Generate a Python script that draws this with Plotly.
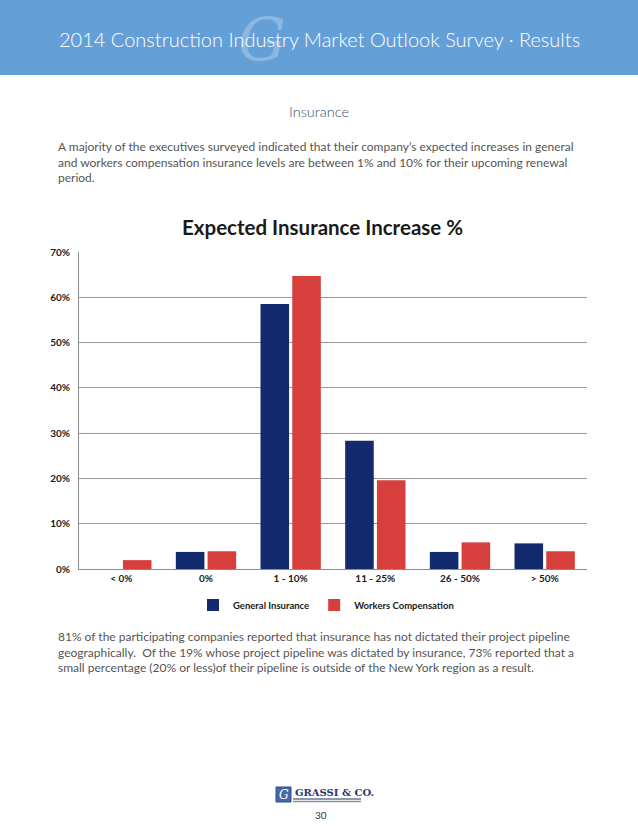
import plotly.graph_objects as go

categories = ["< 0%", "0%", "1 - 10%", "11 - 25%", "26 - 50%", "> 50%"]
general_insurance = [0.0, 3.77, 58.49, 28.30, 3.77, 5.66]
workers_comp = [1.96, 3.92, 64.71, 19.61, 5.88, 3.92]
y_ticks = [0, 10, 20, 30, 40, 50, 60, 70]
y_tick_labels = [f"{v}%" for v in y_ticks]

W, H = 638, 826
L, R, T, B = 79, 587, 252, 569  # plot area in pixels


def px(x):
    return (x - L) / (R - L)


def py(y):
    return (B - y) / (B - T)


fig = go.Figure()
fig.add_trace(go.Bar(
    x=categories, y=general_insurance, name="General Insurance",
    marker=dict(color="#142a6e", line=dict(width=0)),
))
fig.add_trace(go.Bar(
    x=categories, y=workers_comp, name="Workers Compensation",
    marker=dict(color="#d63f3c", line=dict(width=0)),
))

shapes = [
    dict(type="rect", xref="paper", yref="paper", x0=px(0), x1=px(W), y0=py(75), y1=py(0),
         fillcolor="#659fd7", line=dict(width=0), layer="below"),
    # logo square
    dict(type="rect", xref="paper", yref="paper", x0=px(276), x1=px(291), y0=py(802), y1=py(787),
         fillcolor="#4468a8", line=dict(color="#2c4a86", width=1)),
    dict(type="line", xref="paper", yref="paper", x0=px(293), x1=px(361), y0=py(799), y1=py(799),
         line=dict(color="#1f2f6b", width=1)),
    dict(type="line", xref="paper", yref="paper", x0=px(293), x1=px(361), y0=py(801.5), y1=py(801.5),
         line=dict(color="#8a8fa8", width=1.5)),
]

body_font = "Lato, 'Open Sans', sans-serif"
annotations = [
    dict(text="<i>G</i>", x=px(262), y=py(40), xref="paper", yref="paper", showarrow=False,
         font=dict(family="DejaVu Serif", size=60, color="rgba(255,255,255,0.25)"),
         xanchor="center", yanchor="middle"),
    dict(text="2014 Construction Industry Market Outlook Survey · Results", x=px(319), y=py(39),
         xref="paper", yref="paper", showarrow=False,
         font=dict(family=body_font, size=20, color="white", weight=300),
         xanchor="center", yanchor="middle"),
    dict(text="Insurance", x=px(319), y=py(111), xref="paper", yref="paper", showarrow=False,
         font=dict(family=body_font, size=14.5, color="#3a4a6e", weight=300),
         xanchor="center", yanchor="middle"),
    dict(text=("A majority of the executives surveyed indicated that their company’s expected increases in general<br>"
               "and workers compensation insurance levels are between 1% and 10% for their upcoming renewal<br>"
               "period."),
         x=px(56), y=py(137), xref="paper", yref="paper", showarrow=False, align="left",
         font=dict(family=body_font, size=12, color="#555555"),
         xanchor="left", yanchor="top"),
    dict(text="Expected Insurance Increase %", x=px(322), y=py(227), xref="paper", yref="paper",
         showarrow=False, font=dict(family=body_font, size=20.5, color="#1a1a1a", weight=700),
         xanchor="center", yanchor="middle"),
    dict(text=("81% of the participating companies reported that insurance has not dictated their project pipeline<br>"
               "geographically.  Of the 19% whose project pipeline was dictated by insurance, 73% reported that a<br>"
               "small percentage (20% or less)of their pipeline is outside of the New York region as a result."),
         x=px(56), y=py(627), xref="paper", yref="paper", showarrow=False, align="left",
         font=dict(family=body_font, size=12, color="#555555"),
         xanchor="left", yanchor="top"),
    dict(text="<i>G</i>", x=px(283.5), y=py(794.5), xref="paper", yref="paper", showarrow=False,
         font=dict(family="DejaVu Serif", size=12, color="white"), xanchor="center", yanchor="middle"),
    dict(text="<b>GRASSI &amp; CO.</b>", x=px(293), y=py(792), xref="paper", yref="paper", showarrow=False,
         font=dict(family="DejaVu Serif", size=10, color="#2a3570"), xanchor="left", yanchor="middle"),
    dict(text="30", x=px(321), y=py(815), xref="paper", yref="paper", showarrow=False,
         font=dict(family=body_font, size=10, color="#333333"), xanchor="center", yanchor="middle"),
]

fig.update_layout(
    width=W, height=H,
    margin=dict(l=L, r=W - R, t=T, b=H - B, autoexpand=False),
    paper_bgcolor="white", plot_bgcolor="white",
    barmode="group", bargap=0.25, bargroupgap=0.1,
    showlegend=True,
    legend=dict(orientation="h", x=px(326), y=py(605), xanchor="center", yanchor="middle",
                font=dict(family=body_font, size=9.5, color="#1a1a1a", weight=700),
                itemwidth=30, traceorder="normal", bgcolor="rgba(0,0,0,0)"),
    shapes=shapes, annotations=annotations,
    font=dict(family=body_font),
)
fig.update_xaxes(showgrid=False, showline=True, linecolor="#8c8c8c", linewidth=1,
                 ticks="", tickfont=dict(family=body_font, size=10, color="#1a1a1a", weight=700),
                 fixedrange=True)
fig.update_yaxes(range=[0, 70], tickvals=y_ticks, ticktext=y_tick_labels,
                 showgrid=True, gridcolor="#9a9a9a", gridwidth=1,
                 showline=True, linecolor="#8c8c8c", linewidth=1, zeroline=False,
                 ticks="", ticklabelstandoff=6,
                 tickfont=dict(family=body_font, size=10, color="#1a1a1a", weight=700),
                 fixedrange=True)

fig.write_html("out.html", config={"displayModeBar": False},
               post_script="document.body.style.margin='0';")
